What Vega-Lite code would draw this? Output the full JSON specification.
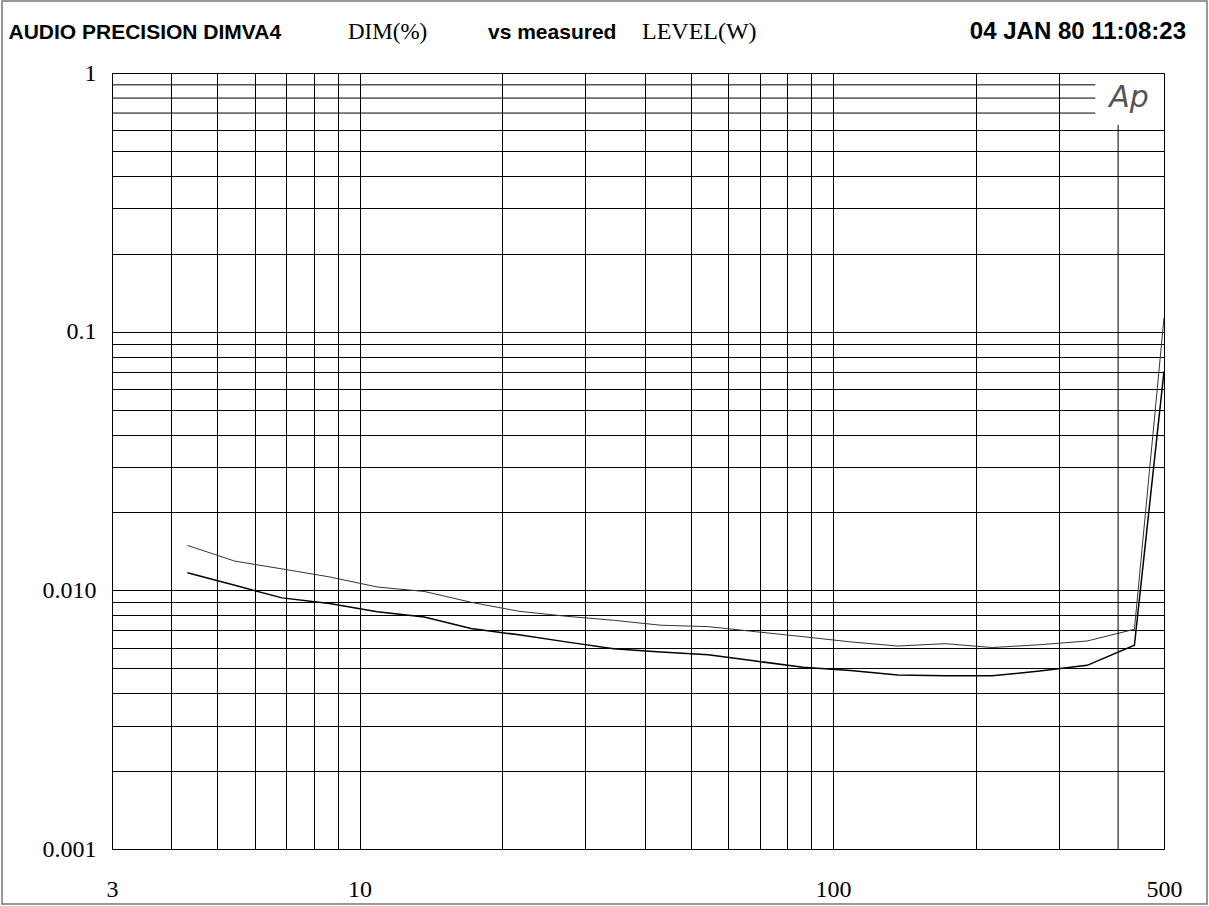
{
  "$schema": "https://vega.github.io/schema/vega-lite/v6.json",
  "width": 1052,
  "height": 776,
  "autosize": {"type": "none"},
  "padding": {"left": 112, "top": 73, "right": 45, "bottom": 57},
  "background": "white",
  "config": {
    "view": {"stroke": "#000", "strokeWidth": 1},
    "axis": {
      "grid": true, "gridColor": "#000", "gridOpacity": 1, "gridWidth": 1,
      "domain": false, "ticks": false, "tickSize": 0,
      "labelFont": "Liberation Serif", "labelFontSize": 24, "labelColor": "#000",
      "labelFlush": false, "labelOverlap": false, "title": null
    }
  },
  "datasets": {
    "curves": [
      {"level": 4.33, "dim": 0.01492, "series": "A"},
      {"level": 5.45, "dim": 0.01297, "series": "A"},
      {"level": 6.86, "dim": 0.0121, "series": "A"},
      {"level": 8.64, "dim": 0.01127, "series": "A"},
      {"level": 10.9, "dim": 0.0103, "series": "A"},
      {"level": 13.7, "dim": 0.0099, "series": "A"},
      {"level": 17.2, "dim": 0.00899, "series": "A"},
      {"level": 21.7, "dim": 0.0083, "series": "A"},
      {"level": 27.3, "dim": 0.00794, "series": "A"},
      {"level": 34.4, "dim": 0.00766, "series": "A"},
      {"level": 43.3, "dim": 0.00733, "series": "A"},
      {"level": 54.5, "dim": 0.00724, "series": "A"},
      {"level": 68.6, "dim": 0.00692, "series": "A"},
      {"level": 86.4, "dim": 0.00662, "series": "A"},
      {"level": 108.8, "dim": 0.00632, "series": "A"},
      {"level": 137, "dim": 0.00609, "series": "A"},
      {"level": 172.5, "dim": 0.00622, "series": "A"},
      {"level": 217, "dim": 0.00601, "series": "A"},
      {"level": 273, "dim": 0.00616, "series": "A"},
      {"level": 344, "dim": 0.00637, "series": "A"},
      {"level": 433, "dim": 0.00707, "series": "A"},
      {"level": 500, "dim": 0.1132, "series": "A"},
      {"level": 4.33, "dim": 0.0117, "series": "B"},
      {"level": 5.45, "dim": 0.01046, "series": "B"},
      {"level": 6.86, "dim": 0.00935, "series": "B"},
      {"level": 8.64, "dim": 0.0089, "series": "B"},
      {"level": 10.9, "dim": 0.00827, "series": "B"},
      {"level": 13.7, "dim": 0.00788, "series": "B"},
      {"level": 17.2, "dim": 0.00712, "series": "B"},
      {"level": 21.7, "dim": 0.00673, "series": "B"},
      {"level": 27.3, "dim": 0.00632, "series": "B"},
      {"level": 34.4, "dim": 0.00595, "series": "B"},
      {"level": 43.3, "dim": 0.00577, "series": "B"},
      {"level": 54.5, "dim": 0.00563, "series": "B"},
      {"level": 68.6, "dim": 0.00533, "series": "B"},
      {"level": 86.4, "dim": 0.00504, "series": "B"},
      {"level": 108.8, "dim": 0.0049, "series": "B"},
      {"level": 137, "dim": 0.00471, "series": "B"},
      {"level": 172.5, "dim": 0.00468, "series": "B"},
      {"level": 217, "dim": 0.00467, "series": "B"},
      {"level": 273, "dim": 0.00488, "series": "B"},
      {"level": 344, "dim": 0.00513, "series": "B"},
      {"level": 433, "dim": 0.00613, "series": "B"},
      {"level": 500, "dim": 0.0703, "series": "B"}
    ],
    "cutGrid": [{"g": 0.7}, {"g": 0.8}, {"g": 0.9}],
    "one": [{}]
  },
  "layer": [
    {
      "data": {"name": "curves"},
      "mark": {"type": "line", "clip": true},
      "encoding": {
        "x": {
          "field": "level", "type": "quantitative",
          "scale": {"type": "log", "domain": [3, 500], "nice": false},
          "axis": {
            "values": [3, 4, 5, 6, 7, 8, 9, 10, 20, 30, 40, 50, 60, 70, 80, 90, 100, 200, 300, 500],
            "labelExpr": "(datum.value == 3 || datum.value == 10 || datum.value == 100 || datum.value == 500) ? format(datum.value, 'd') : ''",
            "labelBaseline": "alphabetic", "labelPadding": 47
          }
        },
        "y": {
          "field": "dim", "type": "quantitative",
          "scale": {"type": "log", "domain": [0.001, 1], "nice": false},
          "axis": {
            "values": [0.001, 0.002, 0.003, 0.004, 0.005, 0.006, 0.007, 0.008, 0.009, 0.01, 0.02, 0.03, 0.04, 0.05, 0.06, 0.07, 0.08, 0.09, 0.1, 0.2, 0.3, 0.4, 0.5, 0.6, 1],
            "labelExpr": "datum.value == 1 ? '1' : datum.value == 0.1 ? '0.1' : datum.value == 0.01 ? '0.010' : datum.value == 0.001 ? '0.001' : ''",
            "labelPadding": 16
          }
        },
        "color": {"field": "series", "type": "nominal", "scale": {"domain": ["A", "B"], "range": ["#333", "#000"]}, "legend": null},
        "strokeWidth": {"field": "series", "type": "nominal", "scale": {"domain": ["A", "B"], "range": [1, 1.5]}, "legend": null}
      }
    },
    {
      "data": {"name": "cutGrid"},
      "mark": {"type": "rule", "color": "#000", "strokeWidth": 1},
      "encoding": {
        "y": {"field": "g", "type": "quantitative"},
        "x": {"datum": 3, "type": "quantitative"},
        "x2": {"datum": 358}
      }
    },
    {
      "data": {"name": "one"},
      "mark": {"type": "rule", "color": "#000", "strokeWidth": 1},
      "encoding": {
        "x": {"datum": 400, "type": "quantitative"},
        "y": {"datum": 0.001, "type": "quantitative"},
        "y2": {"datum": 0.63}
      }
    },
    {
      "data": {"name": "one"},
      "mark": {"type": "text", "text": "Ap", "font": "DejaVu Sans", "fontStyle": "italic", "fontWeight": 200, "fontSize": 30, "color": "#555", "align": "center", "baseline": "middle"},
      "encoding": {
        "x": {"datum": 422, "type": "quantitative"},
        "y": {"datum": 0.8, "type": "quantitative"}
      }
    },
    {
      "data": {"name": "one"},
      "mark": {"type": "text", "text": "AUDIO PRECISION DIMVA4", "font": "Liberation Sans", "fontWeight": "bold", "fontSize": 21, "color": "#000", "align": "left", "baseline": "alphabetic", "x": -103.5, "y": -34}
    },
    {
      "data": {"name": "one"},
      "mark": {"type": "text", "text": "DIM(%)", "font": "Liberation Serif", "fontSize": 23, "color": "#000", "align": "left", "baseline": "alphabetic", "x": 236, "y": -34}
    },
    {
      "data": {"name": "one"},
      "mark": {"type": "text", "text": "vs measured", "font": "Liberation Sans", "fontWeight": "bold", "fontSize": 21, "color": "#000", "align": "left", "baseline": "alphabetic", "x": 376, "y": -34}
    },
    {
      "data": {"name": "one"},
      "mark": {"type": "text", "text": "LEVEL(W)", "font": "Liberation Serif", "fontSize": 24, "color": "#000", "align": "left", "baseline": "alphabetic", "x": 530, "y": -34}
    },
    {
      "data": {"name": "one"},
      "mark": {"type": "text", "text": "04 JAN 80 11:08:23", "font": "Liberation Sans", "fontWeight": "bold", "fontSize": 24, "color": "#000", "align": "right", "baseline": "alphabetic", "x": 1074, "y": -34}
    },
    {
      "data": {"name": "one"},
      "mark": {"type": "rect", "fill": null, "stroke": "#777", "strokeWidth": 1.5, "x": -110, "y": -72, "x2": 1095, "y2": 831}
    }
  ]
}
